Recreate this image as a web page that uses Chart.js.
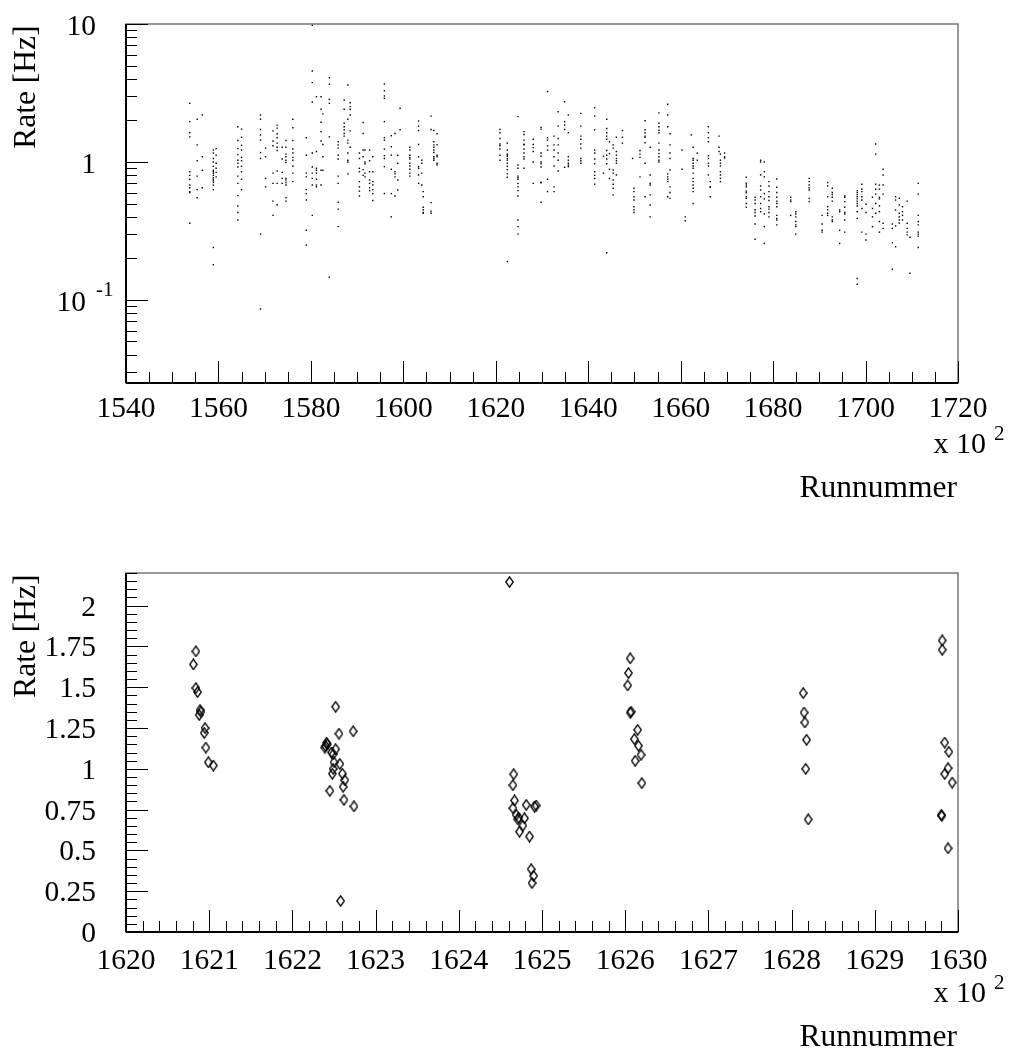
<!DOCTYPE html>
<html>
<head>
<meta charset="utf-8">
<title>Rate vs Runnummer</title>
<script src="https://cdn.jsdelivr.net/npm/chart.js@4/dist/chart.umd.min.js"></script>
<style>
  body { margin: 0; background: #fff; }
  canvas { position: absolute; left: 0; }
  #chartTop { top: 0; }
  #chartBottom { top: 525px; }
</style>
</head>
<body>
<canvas id="chartTop" width="1012" height="525"></canvas>
<canvas id="chartBottom" width="1012" height="526"></canvas>
<script>
// ---- top panel: rate per run (x 10^2), grouped in vertical strips ----
const stripRuns = [
  1553.8, 1555.4, 1556.5, 1558.9, 1559.5, 1564.2, 1565.0, 1569.1, 1570.2, 1571.8,
  1572.7, 1573.8, 1574.6, 1576.1, 1579.0, 1580.3, 1581.2, 1582.2, 1582.6, 1584.0,
  1585.9, 1587.2, 1588.0, 1588.5, 1590.5, 1591.3, 1591.7, 1592.7, 1593.4, 1595.9,
  1597.4, 1598.2, 1598.8, 1599.3, 1601.4, 1603.3, 1604.0, 1604.3, 1606.0, 1606.6,
  1607.3, 1620.9, 1622.5, 1624.8, 1626.1, 1628.1, 1629.8, 1631.2, 1632.6, 1633.5,
  1634.9, 1635.7, 1638.4, 1641.4, 1643.3, 1644.0, 1644.6, 1645.4, 1646.1, 1647.4,
  1649.6, 1649.9, 1651.2, 1652.3, 1653.4, 1655.3, 1657.2, 1657.7, 1660.3, 1661.0,
  1662.3, 1662.7, 1663.6, 1666.0, 1666.4, 1668.3, 1668.6, 1669.5, 1674.2, 1676.1,
  1677.3, 1678.1, 1679.1, 1680.8, 1683.8, 1684.9, 1687.8, 1690.6, 1691.8, 1692.8,
  1694.4, 1695.5, 1698.2, 1699.2, 1700.1, 1701.5, 1702.2, 1703.0, 1703.8, 1705.8,
  1706.5, 1707.3, 1708.0, 1709.0, 1709.6, 1711.4
];
const stripRates = [
  [2.66, 1.96, 1.63, 1.52, 0.85, 0.80, 0.75, 0.68, 0.65, 0.61, 0.60, 0.36],
  [2.04, 1.33, 1.02, 0.79, 0.63, 0.55],
  [2.19, 1.09, 0.87, 0.65],
  [1.22, 1.16, 1.06, 1.00, 0.93, 0.87, 0.85, 0.83, 0.80, 0.77, 0.75, 0.73, 0.71, 0.68, 0.63, 0.24, 0.18],
  [1.25, 1.12, 0.98, 0.90, 0.84, 0.78],
  [1.80, 1.43, 1.25, 1.13, 1.03, 0.98, 0.92, 0.79, 0.70, 0.57, 0.48, 0.43, 0.38],
  [1.73, 1.51, 1.32, 1.22, 1.08, 1.02, 0.93, 0.85, 0.75, 0.63],
  [2.19, 2.04, 1.72, 1.57, 1.44, 1.17, 1.06, 0.30, 0.086],
  [1.26, 1.09, 0.76, 0.66],
  [1.68, 1.42, 1.31, 0.83, 0.70, 0.52, 0.41],
  [1.85, 1.76, 1.60, 1.50, 1.37, 1.28, 1.21, 0.86, 0.70, 0.49],
  [1.28, 1.05, 0.84, 0.76, 0.70],
  [1.43, 1.28, 1.14, 1.09, 1.03, 0.99, 0.76, 0.74, 0.71, 0.68, 0.55, 0.52],
  [2.04, 1.77, 1.43, 1.24, 1.16, 1.08, 1.03, 0.93, 0.83, 0.72],
  [1.50, 1.12, 0.83, 0.78, 0.63, 0.59, 0.53, 0.32, 0.25],
  [9.8, 4.56, 3.76, 2.72, 1.16, 0.92, 0.83, 0.76, 0.68, 0.41],
  [2.97, 1.19, 0.90, 0.87, 0.83, 0.75, 0.68, 0.66],
  [2.97, 2.41, 1.94, 1.66, 1.42, 0.87, 0.68],
  [2.23, 1.34, 1.09, 0.87],
  [4.08, 3.66, 2.85, 2.66, 1.52, 0.146],
  [1.40, 1.33, 1.26, 1.12, 1.05, 0.79, 0.70, 0.51, 0.455, 0.34],
  [2.81, 2.41, 1.91, 1.80, 1.71, 1.61, 1.54],
  [3.61, 2.04, 1.44, 1.37, 1.16, 1.03, 1.00, 0.82],
  [2.69, 2.52, 2.41, 2.19, 1.68, 1.28],
  [1.16, 1.06, 0.90, 0.85, 0.72, 0.66, 0.615, 0.567],
  [1.93, 1.61, 1.22, 1.09, 0.88, 0.80],
  [1.22, 1.00, 0.97, 0.83, 0.78],
  [1.22, 1.02, 0.85, 0.74, 0.70, 0.65, 0.62],
  [1.09, 0.85, 0.72, 0.68, 0.63, 0.59, 0.525],
  [3.68, 3.28, 3.01, 2.89, 1.96, 1.50, 1.44, 1.24, 1.11, 1.06, 0.925, 0.59],
  [1.55, 1.29, 1.12, 0.885, 0.59, 0.40],
  [1.61, 0.85, 0.82, 0.78, 0.567],
  [1.12, 0.98, 0.74, 0.627],
  [2.45, 1.71],
  [1.28, 1.22, 1.12, 1.08, 1.05, 0.98, 0.935, 0.885, 0.83, 0.79],
  [1.98, 1.82, 1.69, 1.34, 1.09, 0.925, 0.90, 0.805, 0.70],
  [1.03, 0.98, 0.83, 0.68],
  [0.61, 0.56, 0.47, 0.45, 0.43, 0.425],
  [2.15, 1.72, 0.507, 0.44, 0.425],
  [1.69, 1.40, 1.33, 1.28, 1.22, 1.17, 1.09, 1.06, 1.03],
  [1.60, 1.33, 1.12, 1.09, 0.98, 0.95],
  [1.72, 1.63, 1.48, 1.35, 1.31, 1.24, 1.12, 1.03],
  [1.37, 1.22, 1.14, 1.12, 1.10, 1.06, 1.03, 0.98, 0.93, 0.88, 0.82, 0.775, 0.19],
  [2.13, 0.95, 0.90, 0.79, 0.77, 0.75, 0.70, 0.66, 0.62, 0.567, 0.38, 0.34, 0.30],
  [1.66, 1.58, 1.44, 1.34, 1.34, 1.24, 1.16, 1.09, 1.05, 0.90],
  [1.46, 1.34, 1.27, 1.19, 1.00, 0.70],
  [1.78, 1.73, 1.16, 1.10, 1.00, 0.97, 0.92, 0.71, 0.71, 0.51],
  [3.24, 1.50, 1.44, 1.31, 1.22, 0.75, 0.61],
  [1.54, 1.33, 1.22, 1.09, 0.935, 0.66, 0.61],
  [2.31, 1.82, 1.48, 1.33, 1.16, 1.03, 0.86],
  [2.73, 1.96, 1.85, 1.72, 0.915],
  [2.19, 1.63, 1.09, 1.03, 0.98, 0.95, 0.925],
  [2.25, 1.82, 1.54, 1.46, 1.35, 1.26, 1.06, 1.02, 0.98],
  [2.47, 2.15, 1.71, 1.22, 1.16, 1.05, 0.97, 0.85, 0.80, 0.76, 0.69],
  [1.10, 0.83],
  [2.04, 1.75, 1.63, 1.54, 1.46, 1.21, 1.12, 1.05, 0.97, 0.22],
  [1.40, 1.15, 0.885, 0.76],
  [1.33, 1.26, 0.875, 0.83, 0.74, 0.69, 0.645, 0.577],
  [1.51, 1.19, 1.12, 1.06, 1.02, 0.98, 0.805],
  [1.69, 1.51, 1.37],
  [1.06],
  [0.645, 0.61, 0.56, 0.53, 0.474, 0.45, 0.43],
  [1.21, 1.14, 1.08, 0.78],
  [1.99, 1.71, 1.63, 1.54, 1.51, 1.38, 0.98, 0.56],
  [1.28, 0.805, 0.70, 0.68, 0.577, 0.488, 0.40],
  [2.27, 1.91, 1.80, 1.70, 1.63, 1.37, 1.22, 1.15, 1.09, 1.03, 1.00],
  [2.62, 2.19, 1.80, 0.82, 0.78, 0.75, 0.72, 0.56],
  [1.60, 1.33, 1.16, 1.06, 0.875, 0.66, 0.60, 0.545],
  [1.22, 0.885],
  [0.40, 0.375],
  [1.57],
  [1.28, 1.06, 1.03, 0.98, 0.935, 0.90, 0.83, 0.76, 0.72, 0.68, 0.645, 0.61, 0.50],
  [1.16, 1.03],
  [1.80, 1.63, 1.50, 1.40, 1.11, 1.06, 0.98, 0.935, 0.805],
  [0.72, 0.66, 0.655, 0.56],
  [1.54, 1.28, 1.19],
  [1.14, 1.03, 0.98, 0.935, 0.85, 0.805, 0.76, 0.72],
  [1.16, 1.09, 1.07],
  [0.775, 0.70, 0.68, 0.66, 0.615, 0.60, 0.56, 0.545, 0.50, 0.47],
  [0.555, 0.53, 0.50, 0.45, 0.43, 0.406, 0.355, 0.275],
  [1.03, 1.00, 0.805, 0.67, 0.627, 0.56, 0.50, 0.46, 0.436],
  [1.00, 0.85, 0.78, 0.59, 0.54, 0.42, 0.34, 0.257],
  [0.72, 0.67, 0.61, 0.56, 0.525, 0.474, 0.455, 0.43, 0.40],
  [0.753, 0.655, 0.60, 0.555, 0.52, 0.50, 0.474, 0.41, 0.39, 0.38, 0.35],
  [0.555, 0.53, 0.516, 0.41],
  [0.436, 0.42, 0.40, 0.37, 0.35, 0.34, 0.30],
  [0.76, 0.72, 0.68, 0.65, 0.627, 0.545, 0.516],
  [0.41, 0.355, 0.32, 0.31],
  [0.71, 0.67, 0.56, 0.474, 0.45, 0.425, 0.41],
  [0.645, 0.60, 0.58, 0.555, 0.52, 0.40, 0.38, 0.37],
  [0.449, 0.436, 0.32, 0.257],
  [0.567, 0.555, 0.516, 0.47, 0.43, 0.42, 0.38, 0.31],
  [0.62, 0.60, 0.58, 0.56, 0.54, 0.52, 0.50, 0.48, 0.436, 0.39, 0.143, 0.13],
  [0.69, 0.635, 0.61, 0.56, 0.53, 0.46, 0.31],
  [0.494, 0.43, 0.30, 0.272],
  [0.555, 0.46, 0.40, 0.34],
  [1.35, 1.14, 0.69, 0.635, 0.585, 0.50, 0.425],
  [0.68, 0.635, 0.555, 0.54, 0.48, 0.436, 0.37, 0.31],
  [0.885, 0.805, 0.68, 0.585, 0.36, 0.33],
  [0.355, 0.33, 0.26, 0.167],
  [0.56, 0.53, 0.449, 0.344, 0.243],
  [0.545, 0.488, 0.425, 0.40, 0.38, 0.36],
  [0.474, 0.436, 0.41, 0.38],
  [0.52, 0.36, 0.33, 0.31, 0.296],
  [0.285, 0.156],
  [0.70, 0.585, 0.41, 0.37, 0.35, 0.31, 0.30, 0.29, 0.24]
];

// ---- bottom panel: zoom on runs 162000 - 163000 ----
const zoomRuns = [
  1620.84, 1620.81, 1620.84, 1620.86, 1620.89, 1620.90, 1620.88, 1620.95, 1620.94, 1620.96, 1620.99, 1621.05,
  1622.52, 1622.56, 1622.73, 1622.40, 1622.41, 1622.39, 1622.42, 1622.52, 1622.49, 1622.47, 1622.50, 1622.57,
  1622.49, 1622.48, 1622.60, 1622.63, 1622.61, 1622.62, 1622.74, 1622.45, 1622.58,
  1624.61, 1624.66, 1624.65, 1624.67, 1624.65, 1624.69, 1624.71, 1624.72, 1624.81, 1624.79, 1624.77, 1624.73,
  1624.91, 1624.93, 1624.85, 1624.87, 1624.90, 1624.88,
  1626.06, 1626.04, 1626.03, 1626.06, 1626.07, 1626.15, 1626.11, 1626.16, 1626.19, 1626.12, 1626.20,
  1628.14, 1628.15, 1628.16, 1628.18, 1628.17, 1628.20,
  1629.81, 1629.81, 1629.84, 1629.89, 1629.88, 1629.84, 1629.93, 1629.80, 1629.805, 1629.88
];
const zoomRates = [
  1.72, 1.64, 1.495, 1.47, 1.36, 1.35, 1.33, 1.25, 1.22, 1.13, 1.04, 1.02,
  1.38, 1.215, 1.23, 1.14, 1.16, 1.13, 1.15, 1.12, 1.09, 1.10, 1.04, 1.03,
  1.00, 0.97, 0.97, 0.93, 0.89, 0.81, 0.77, 0.865, 0.19,
  2.145, 0.967, 0.90, 0.806, 0.759, 0.718, 0.69, 0.70, 0.779, 0.697, 0.652, 0.615,
  0.769, 0.775, 0.585, 0.385, 0.344, 0.30,
  1.677, 1.587, 1.511, 1.345, 1.35, 1.239, 1.182, 1.141, 1.086, 1.049, 0.912,
  1.464, 1.345, 1.284, 1.178, 1.0, 0.69,
  1.787, 1.73, 1.161, 1.104, 1.004, 0.969, 0.916, 0.718, 0.712, 0.513
];

// tick labels
const topXTicks = [1540, 1560, 1580, 1600, 1620, 1640, 1660, 1680, 1700, 1720];
const topYTicks = [0.1, 1, 10];
const topYLabels = ["10", "1", "10"];
const topYExps = ["-1", "", ""];
const botXTicks = [1620, 1621, 1622, 1623, 1624, 1625, 1626, 1627, 1628, 1629, 1630];
const botYTicks = [0, 0.25, 0.5, 0.75, 1, 1.25, 1.5, 1.75, 2];
const botYLabels = ["0", "0.25", "0.5", "0.75", "1", "1.25", "1.5", "1.75", "2"];

const FONT = '"Liberation Serif", "Times New Roman", serif';
const LABEL_FONT = "29.5px " + FONT;
const TITLE_FONT = "31.5px " + FONT;
const SUP_FONT = "21px " + FONT;

function line(ctx, x1, y1, x2, y2) {
  ctx.beginPath();
  ctx.moveTo(x1, y1);
  ctx.lineTo(x2, y2);
  ctx.stroke();
}

// ROOT style frame: ticks inside the frame, labels outside
const rootFrame = {
  id: "rootFrame",
  afterDatasetsDraw(chart, args, o) {
    const { ctx, chartArea: a } = chart;
    const x = chart.scales.x, y = chart.scales.y;
    ctx.save();
    ctx.strokeStyle = "#777";
    ctx.lineWidth = 1.5;
    ctx.strokeRect(a.left, a.top, a.right - a.left, a.bottom - a.top);

    ctx.strokeStyle = "#000";
    ctx.lineWidth = 2;
    line(ctx, a.left, a.top, a.left, a.bottom);
    line(ctx, a.left, a.bottom, a.right, a.bottom);

    ctx.lineWidth = 1;
    o.xMinor.forEach(v => {
      const p = Math.round(x.getPixelForValue(v)) + 0.5;
      line(ctx, p, a.bottom, p, a.bottom - 11);
    });
    o.xMajor.forEach(v => {
      const p = Math.round(x.getPixelForValue(v)) + 0.5;
      line(ctx, p, a.bottom, p, a.bottom - 22);
    });
    o.yMinor.forEach(v => {
      const p = Math.round(y.getPixelForValue(v)) + 0.5;
      line(ctx, a.left, p, a.left + 11, p);
    });
    o.yMajor.forEach(v => {
      const p = Math.round(y.getPixelForValue(v)) + 0.5;
      line(ctx, a.left, p, a.left + 22, p);
    });

    // tick labels
    ctx.fillStyle = "#000";
    ctx.font = LABEL_FONT;
    ctx.textBaseline = "alphabetic";
    ctx.textAlign = "center";
    o.xMajor.forEach(v => ctx.fillText(String(v), x.getPixelForValue(v), a.bottom + o.xLabelGap));

    o.yMajor.forEach((v, i) => {
      const p = y.getPixelForValue(v) + o.yLabelShift;
      const exp = o.yExps ? o.yExps[i] : "";
      ctx.font = LABEL_FONT;
      ctx.textAlign = "right";
      if (exp) {
        ctx.fillText(o.yLabels[i], a.left - 40, p);
        ctx.font = SUP_FONT;
        ctx.textAlign = "left";
        ctx.fillText(exp, a.left - 30, p - 15);
      } else {
        ctx.fillText(o.yLabels[i], a.left - 30, p);
      }
    });

    // x axis title with the x 10^2 factor
    ctx.font = "30px " + FONT;
    ctx.textAlign = "right";
    ctx.fillText("x 10", 986, a.bottom + 70);
    ctx.font = SUP_FONT;
    ctx.textAlign = "left";
    ctx.fillText("2", 994, a.bottom + 57);
    ctx.font = TITLE_FONT;
    ctx.textAlign = "right";
    ctx.fillText("Runnummer", 957, a.bottom + 114);

    // y axis title
    ctx.translate(35, a.top + 1.5);
    ctx.rotate(-Math.PI / 2);
    ctx.textAlign = "right";
    ctx.fillText("Rate [Hz]", 0, 0);
    ctx.restore();
  }
};

// minor tick positions
const topXMinor = [];
for (let v = 1540; v <= 1720; v += 5) topXMinor.push(v);
const topYMinor = [];
[0.01, 0.1, 1].forEach(d => { for (let m = 2; m <= 9; m++) { const v = m * d; if (v >= 0.025 && v <= 10) topYMinor.push(v); } });
const botXMinor = [];
for (let i = 0; i <= 50; i++) botXMinor.push(1620 + i * 0.2);
const botYMinor = [];
for (let i = 0; i <= 44; i++) botYMinor.push(i * 0.05);

const topPoints = stripRuns.flatMap((r, i) => stripRates[i].map(v => ({ x: r, y: v })));
const zoomPoints = zoomRuns.map((r, i) => ({ x: r, y: zoomRates[i] }));

// open diamond marker, slightly taller than wide
const diamond = document.createElement("canvas");
diamond.width = 9;
diamond.height = 12;
(() => {
  const c = diamond.getContext("2d");
  c.strokeStyle = "#000";
  c.lineWidth = 1.3;
  c.beginPath();
  c.moveTo(4.5, 0.8);
  c.lineTo(8.2, 6);
  c.lineTo(4.5, 11.2);
  c.lineTo(0.8, 6);
  c.closePath();
  c.stroke();
})();

const common = {
  responsive: false,
  animation: false,
  events: [],
  plugins: { legend: { display: false }, tooltip: { enabled: false } }
};

new Chart(document.getElementById("chartTop"), {
  type: "scatter",
  data: {
    datasets: [{
      data: topPoints,
      pointStyle: "rect",
      pointRadius: 1,
      backgroundColor: "#000",
      borderWidth: 0
    }]
  },
  options: {
    ...common,
    layout: { padding: { left: 126, top: 24, right: 54, bottom: 142 } },
    plugins: {
      ...common.plugins,
      rootFrame: {
        xMajor: topXTicks, xMinor: topXMinor, yMajor: topYTicks, yMinor: topYMinor,
        yLabels: topYLabels, yExps: topYExps, xLabelGap: 34, yLabelShift: 11
      }
    },
    scales: {
      x: { type: "linear", display: false, min: 1540, max: 1720 },
      y: { type: "logarithmic", display: false, min: 0.025, max: 10 }
    }
  },
  plugins: [rootFrame]
});

new Chart(document.getElementById("chartBottom"), {
  type: "scatter",
  data: {
    datasets: [{
      data: zoomPoints,
      pointStyle: diamond,
      pointRadius: 5
    }]
  },
  options: {
    ...common,
    layout: { padding: { left: 126, top: 48, right: 54, bottom: 119 } },
    plugins: {
      ...common.plugins,
      rootFrame: {
        xMajor: botXTicks, xMinor: botXMinor, yMajor: botYTicks, yMinor: botYMinor,
        yLabels: botYLabels, xLabelGap: 37, yLabelShift: 10
      }
    },
    scales: {
      x: { type: "linear", display: false, min: 1620, max: 1630 },
      y: { type: "linear", display: false, min: 0, max: 2.2 }
    }
  },
  plugins: [rootFrame]
});
</script>
</body>
</html>
